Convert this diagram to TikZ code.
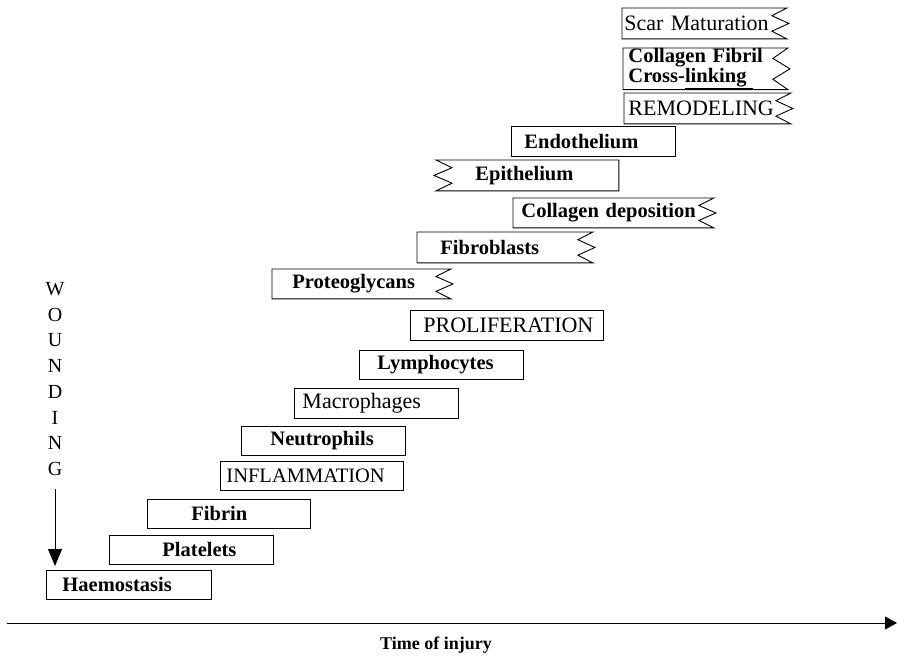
\documentclass[tikz,border=0pt]{standalone}
\usepackage{fontspec}
\setmainfont{Liberation Serif}
\usetikzlibrary{calc,arrows.meta}
\tikzset{
  stage/.style={draw=black, line width=0.9pt, inner xsep=0pt, inner ysep=0pt,
    minimum height=30pt, align=left, anchor=north west,
    font=\fontsize{22}{23}\selectfont},
  boldtext/.style={font=\bfseries\fontsize{20.5}{21}\selectfont},
  zstage/.style={stage, draw=none},
  outline/.style={draw=black, line width=0.9pt, line join=miter},
  downarr/.style={line width=1pt, -{Triangle[length=17pt,width=14pt]}},
  timearr/.style={line width=1pt, -{Triangle[length=12pt,width=13pt]}},
}
\newcommand\zigR[1]{\draw[outline] (#1.north east) -- (#1.north west) -- (#1.south west) -- (#1.south east)
  -- ($(#1.south east)!0.25!(#1.north east)+(-15,0)$)
  -- ($(#1.south east)!0.5!(#1.north east)+(2,0)$)
  -- ($(#1.south east)!0.75!(#1.north east)+(-15,0)$) -- cycle;}
\newcommand\zigL[1]{\draw[outline] (#1.north west) -- (#1.north east) -- (#1.south east) -- (#1.south west)
  -- ($(#1.south west)!0.25!(#1.north west)+(16,0)$)
  -- ($(#1.south west)!0.5!(#1.north west)+(-2,0)$)
  -- ($(#1.south west)!0.75!(#1.north west)+(16,0)$) -- cycle;}
\begin{document}
\begin{tikzpicture}[x=1pt,y=-1pt]
\fill[white] (0,0) rectangle (897,658);
\useasboundingbox (0,0) rectangle (897,658);

% remodeling group
\node[zstage, text width=164pt] (scar) at (622,8) {\hspace*{2pt}Scar Maturation};
\zigR{scar}
\node[zstage, text width=164pt, minimum height=39pt, font=\bfseries\fontsize{20.5}{20}\selectfont] (fibril) at (623,48)
  {\hspace*{5pt}Collagen Fibril\\\hspace*{5pt}Cross-\underline{linking\hspace{6pt}}};
\zigR{fibril}
\node[zstage, text width=166pt] (remod) at (624,93) {\hspace*{4pt}REMODELING};
\zigR{remod}

% proliferation group
\node[stage, boldtext, text width=164pt] (endo) at (511,126) {\hspace*{13pt}Endothelium};
\node[zstage, boldtext, text width=182pt] (epi) at (436,160) {\hspace*{39pt}Epithelium};
\zigL{epi}
\node[zstage, boldtext, text width=200pt, minimum height=29pt] (coll) at (513,198) {\hspace*{8pt}Collagen deposition};
\zigR{coll}
\node[zstage, boldtext, text width=175pt] (fibro) at (417,232) {\hspace*{23pt}Fibroblasts};
\zigR{fibro}
\node[zstage, boldtext, text width=178pt, minimum height=29pt] (proteo) at (272,269) {\hspace*{20pt}Proteoglycans};
\zigR{proteo}
\node[stage, text width=193pt] (prolif) at (410,310) {\hspace*{13pt}PROLIFERATION};

% inflammation group
\node[stage, boldtext, text width=164pt, minimum height=29pt] (lympho) at (359,350) {\hspace*{18pt}Lymphocytes};
\node[stage, text width=164pt] (macro) at (294,388) {\hspace*{8pt}Macrophages};
\node[stage, boldtext, text width=164pt, minimum height=29pt] (neutro) at (241,426) {\hspace*{29pt}Neutrophils};
\node[stage, text width=183pt, minimum height=29pt, font=\fontsize{20.5}{21}\selectfont] (inflam) at (220,461) {\hspace*{6pt}INFLAMMATION};

% haemostasis group
\node[stage, boldtext, text width=163pt, minimum height=29pt] (fibrin) at (147,499) {\hspace*{44pt}Fibrin};
\node[stage, boldtext, text width=164pt, minimum height=29pt] (plate) at (109,535) {\hspace*{53pt}Platelets};
\node[stage, boldtext, text width=165pt, minimum height=29pt] (haem) at (46,570) {\hspace*{16pt}Haemostasis};

% wounding
\node[font=\fontsize{20}{25.7}\selectfont, align=center, inner sep=0pt] (wound) at (55,379)
  {W\\O\\U\\N\\D\\I\\N\\G};
\coordinate (wend) at (55,566);
\draw[downarr] ([yshift=-13pt]wound.south) -- (wend);

% time axis
\coordinate (t0) at (7,623);
\coordinate (t1) at (897,623);
\draw[timearr] (t0) -- (t1);
\node[font=\bfseries\fontsize{18}{20}\selectfont, inner sep=0pt] (time) at (436,645) {Time of injury};
\end{tikzpicture}
\end{document}
